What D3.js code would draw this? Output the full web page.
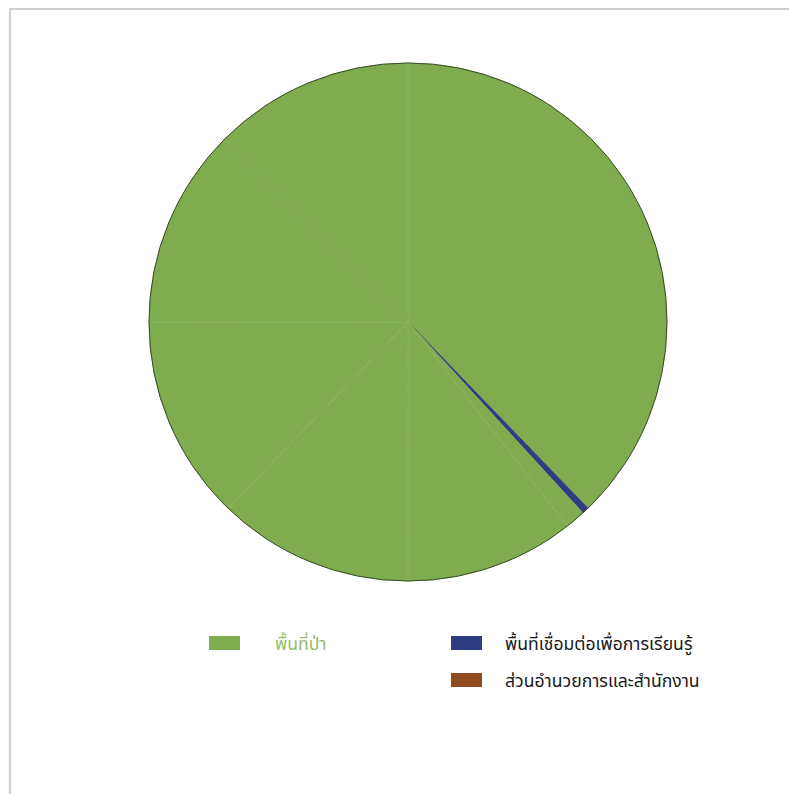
<!DOCTYPE html>
<html><head><meta charset="utf-8">
<script src="https://cdn.jsdelivr.net/npm/d3@7"></script>
<style>body{margin:0;background:#fff;} svg{display:block;}</style>
</head><body>
<svg id="c" width="789" height="794"></svg>
<script>
// legend categories
const categories = ["พื้นที่ป่า", "พื้นที่เชื่อมต่อเพื่อการเรียนรู้", "ส่วนอำนวยการและสำนักงาน"];
const colors = ["#7fac4f", "#2e3c82", "#8f4a1e"];
// slices (percent) in drawing order, each with its category index
const sliceCategory = [0, 1, 0, 0, 0, 0, 0, 0, 2];
const sliceValues = [37.78, 0.42, 1.25, 10.56, 12.22, 12.78, 12.5, 12.5, 0];

const svg = d3.select("#c");
svg.append("rect").attr("x", 10).attr("y", 9).attr("width", 820).attr("height", 820)
  .attr("fill", "none").attr("stroke", "#cfcfcf").attr("stroke-width", 2);

const cx = 408, cy = 322, R = 259;
const data = sliceValues.map((v, i) => ({v, c: sliceCategory[i]}));
const pie = d3.pie().value(d => d.v).sort(null);
const arc = d3.arc().innerRadius(0).outerRadius(R);
const g = svg.append("g").attr("transform", `translate(${cx},${cy})`);
g.selectAll("path").data(pie(data).filter(d => d.data.v > 0)).join("path")
  .attr("d", arc)
  .attr("fill", d => colors[d.data.c])
  .attr("stroke", d => d.data.c === 0 ? "#8ab55e" : colors[d.data.c])
  .attr("stroke-width", 0.8);
g.append("circle").attr("r", R).attr("fill", "none").attr("stroke", "#3a4a2a").attr("stroke-width", 1);

const leg = [
  {i: 0, x: 209, y: 636, tx: 275, col: "#93bd6c"},
  {i: 1, x: 451, y: 636, tx: 505, col: "#1a1a1a"},
  {i: 2, x: 451, y: 673, tx: 505, col: "#1a1a1a"}
];
const lg = svg.append("g");
leg.forEach(l => {
  lg.append("rect").attr("x", l.x).attr("y", l.y).attr("width", 31).attr("height", 14).attr("fill", colors[l.i]);
  lg.append("text").attr("x", l.tx).attr("y", l.y + 14).attr("fill", l.col)
    .attr("font-family", "'Noto Sans Thai', Tahoma, 'DejaVu Sans', sans-serif").attr("font-size", 17.6)
    .text(categories[l.i]);
});
</script>
</body></html>
